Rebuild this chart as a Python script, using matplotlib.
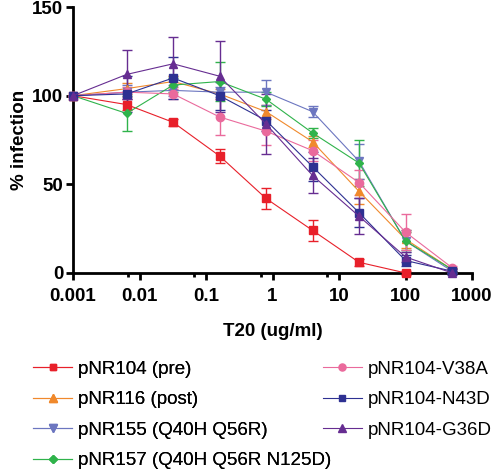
import numpy as np
import matplotlib
matplotlib.use("Agg")
import matplotlib.pyplot as plt
from matplotlib.lines import Line2D

plt.rcParams["font.family"] = ["Liberation Sans", "DejaVu Sans"]

# T20 dilution series (first point = no drug, plotted at 0.001)
conc = [0.001, 0.0064, 0.032, 0.16, 0.8, 4, 20, 100, 500]

labels = [
    "pNR104 (pre)",
    "pNR116 (post)",
    "pNR155 (Q40H Q56R)",
    "pNR157 (Q40H Q56R N125D)",
    "pNR104-V38A",
    "pNR104-N43D",
    "pNR104-G36D",
]
colors = ["#e8202a", "#f0892c", "#6c76c0", "#2fb34b", "#ea6a9c", "#2e3192", "#662d91"]
markers = ["s", "^", "v", "D", "o", "s", "^"]
msizes = [5.5, 6, 6, 4.5, 6, 5.5, 6]

pnr104 = [100, 95, 85, 66, 42, 24, 6, 0, np.nan]
pnr116 = [100, 104, 108, 101, 91, 74, 46, 19, 2]
pnr155 = [100, 102, 103, 102, 102, 91, 63, 18, 1]
pnr157 = [100, 90, 106, 108, 98, 79, 62, 18, 2]
v38a = [100, 102, 101, 88, 80, 69, 51, 23, 3]
n43d = [100, 101, 110, 100, 86, 60, 34, 7, 1]
g36d = [100, 112, 118, 111, 84, 55, 32, 9, 0]

err104 = [0, 3, 2, 4, 6, 6, 2, 1, 0]
err116 = [0, 3, 3, 3, 4, 3, 7, 5, 1]
err155 = [0, 4, 3, 3, 7, 3, 10, 6, 1]
err157 = [0, 10, 4, 11, 4, 3, 13, 5, 1]
errv38a = [0, 3, 3, 10, 8, 6, 7, 10, 1]
errn43d = [0, 10, 12, 8, 6, 8, 8, 3, 1]
errg36d = [0, 14, 15, 20, 17, 10, 10, 3, 1]

series = [pnr104, pnr116, pnr155, pnr157, v38a, n43d, g36d]
errors = [err104, err116, err155, err157, errv38a, errn43d, errg36d]

fig = plt.figure(figsize=(5.0, 4.73), dpi=100)
ax = fig.add_axes([0.146, 0.423, 0.798, 0.562])

handles = []
for ys, es, c, m, ms, lab in zip(series, errors, colors, markers, msizes, labels):
    ax.errorbar(conc, ys, yerr=es, color=c, marker=m, markersize=ms,
                linewidth=0.8, elinewidth=1.0, capsize=3.5, capthick=1.0,
                clip_on=False, zorder=3)
    handles.append(Line2D([], [], color=c, marker=m, markersize=ms * 0.85,
                          linewidth=0.8))

ax.set_xscale("log")
ax.set_xlim(0.001, 1000)
ax.set_ylim(0, 150)
ax.set_yticks([0, 50, 100, 150])
ax.set_xticks([0.001, 0.01, 0.1, 1, 10, 100, 1000])
ax.set_xticklabels(["0.001", "0.01", "0.1", "1", "10", "100", "1000"])
ax.set_xticks([0.0067, 0.067, 0.67, 6.7], minor=True)
ax.set_xticklabels([], minor=True)

for s in ["top", "right"]:
    ax.spines[s].set_visible(False)
for s in ["left", "bottom"]:
    ax.spines[s].set_linewidth(2)
ax.tick_params(axis="both", which="major", direction="out", length=5, width=2,
               labelsize=13.5, pad=2)
ax.tick_params(axis="x", which="major", pad=6)
ax.tick_params(axis="x", which="minor", direction="out", length=3, width=2)
for t in ax.get_xticklabels() + ax.get_yticklabels():
    t.set_fontweight("bold")

ax.set_ylabel("% infection", fontsize=13.5, fontweight="bold", labelpad=3)
ax.set_xlabel("T20 (ug/ml)", fontsize=13.5, fontweight="bold", labelpad=13)

leg_kw = dict(loc="upper left", frameon=False, fontsize=13.5,
              handlelength=2.1, handletextpad=0.3, labelspacing=0.72,
              borderpad=0, borderaxespad=0)
leg1 = fig.legend(handles[:4], labels[:4], bbox_to_anchor=(0.066, 0.238), **leg_kw)
fig.add_artist(leg1)
fig.legend(handles[4:], labels[4:], bbox_to_anchor=(0.645, 0.238), **leg_kw)

fig.savefig("out.png", dpi=100)
